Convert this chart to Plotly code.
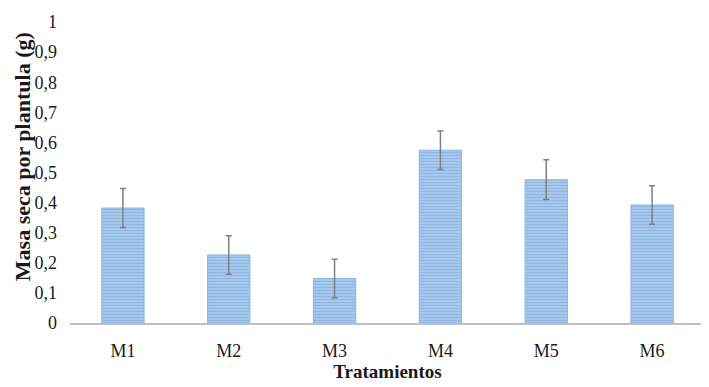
import plotly.graph_objects as go

categories = ["M1", "M2", "M3", "M4", "M5", "M6"]
values = [0.382, 0.226, 0.148, 0.574, 0.476, 0.392]
errors = [0.065, 0.064, 0.064, 0.064, 0.066, 0.064]
y_tickvals = [0, 0.1, 0.2, 0.3, 0.4, 0.5, 0.6, 0.7, 0.8, 0.9, 1]
y_ticktext = ["0", "0,1", "0,2", "0,3", "0,4", "0,5", "0,6", "0,7", "0,8", "0,9", "1"]

font_family = "Liberation Serif, Times New Roman, serif"

fig = go.Figure(go.Bar(
    x=categories, y=values,
    marker=dict(
        color="#aacbee",
        line=dict(color="#8db5e0", width=1),
        pattern=dict(shape="-", fgcolor="#74a4d9", size=3, solidity=0.5),
    ),
    error_y=dict(type="data", array=errors, visible=True,
                 color="#7f7f7f", thickness=1.5, width=3),
))

fig.update_layout(
    width=701, height=379,
    margin=dict(l=62, r=4, t=10, b=64),
    paper_bgcolor="white", plot_bgcolor="white",
    bargap=0.6,
    showlegend=False,
    font=dict(family=font_family, size=18, color="#1a1a1a"),
    xaxis=dict(
        showline=True, linecolor="#bfbfbf", linewidth=2,
        showgrid=False, ticks="",
        tickfont=dict(size=18), ticklabelstandoff=10,
        title=dict(text="<b>Tratamientos</b>", font=dict(size=19), standoff=0),
    ),
    yaxis=dict(
        range=[0, 1], showline=False, showgrid=False, zeroline=False,
        tickvals=y_tickvals, ticktext=y_ticktext, ticks="",
        tickfont=dict(size=18), ticklabelstandoff=12,
    ),
    annotations=[dict(
        text="<b>Masa seca por plantula (g)</b>",
        textangle=-90, xref="paper", yref="paper",
        x=0, y=0.551, xanchor="center", yanchor="middle",
        xshift=-48, showarrow=False,
        font=dict(size=22, family=font_family, color="#1a1a1a"),
    )],
)

fig.write_html("out.html")
